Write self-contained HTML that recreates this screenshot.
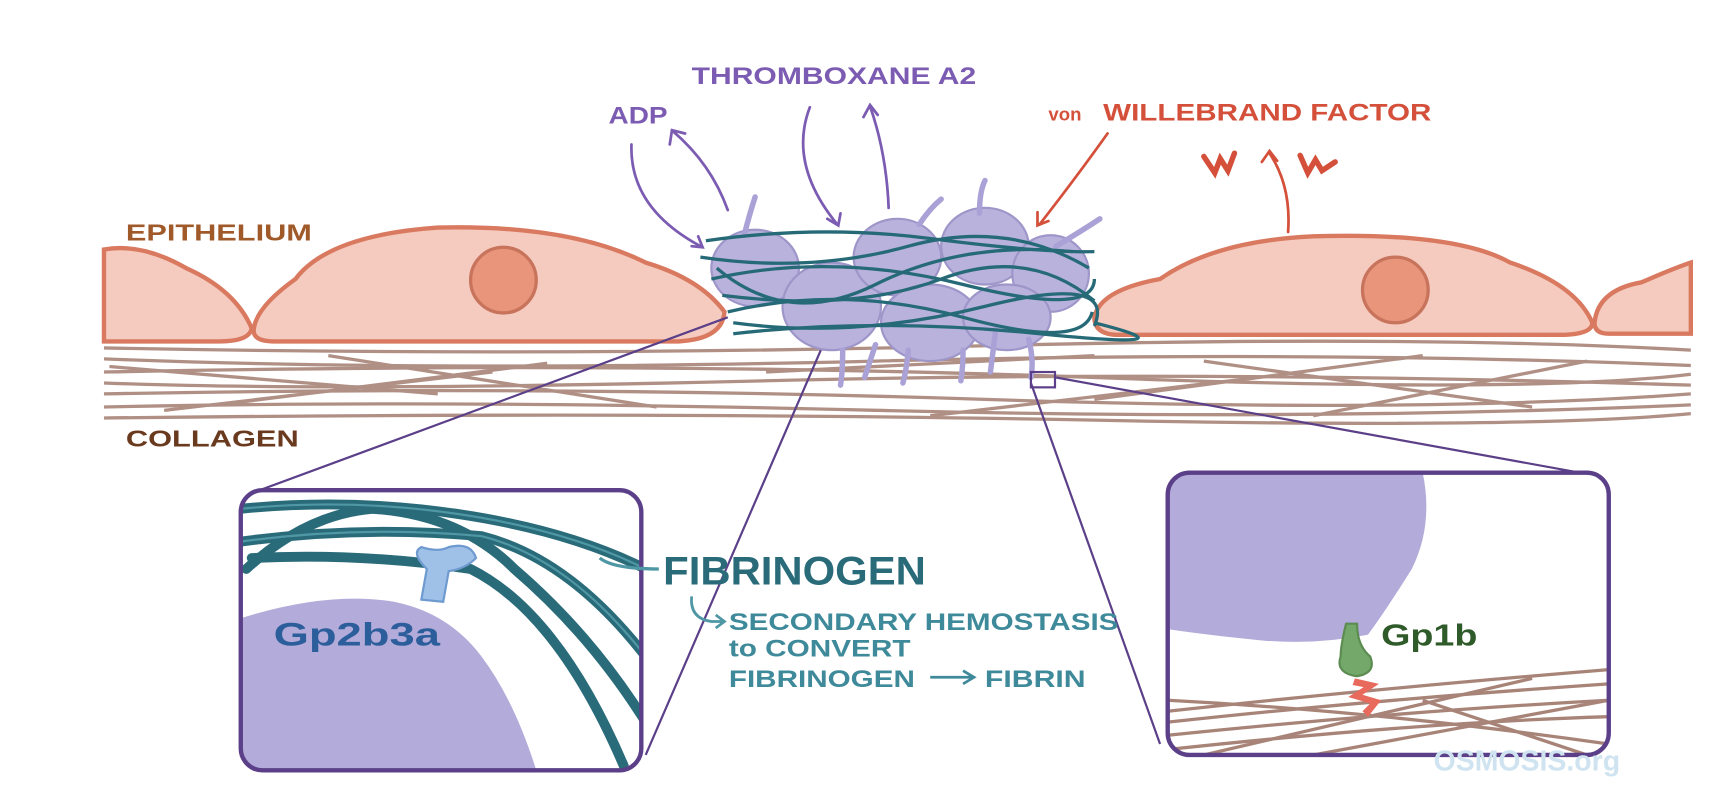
<!DOCTYPE html>
<html><head><style>
html,body{margin:0;padding:0;background:#fff;}
svg{display:block;}
text{font-family:"Liberation Sans",sans-serif;font-weight:bold;}
</style></head><body>
<svg width="1716" height="790" viewBox="0 0 1568 722" preserveAspectRatio="none" xmlns="http://www.w3.org/2000/svg">
<rect width="1568" height="722" fill="#fff"/>
<g stroke="#a88478" stroke-width="3" fill="none" opacity="0.9">
<path d="M95 318 Q500 326 900 316 T1545 320"/>
<path d="M95 328 Q400 340 800 330 T1545 334"/>
<path d="M95 340 Q600 330 1000 345 T1545 342"/>
<path d="M95 350 Q300 358 700 348 T1545 352"/>
<path d="M95 360 Q500 352 900 365 T1545 360"/>
<path d="M95 372 Q400 365 800 375 T1545 370"/>
<path d="M95 382 Q600 376 1000 384 T1545 378"/>
<path d="M100 335 L400 360 M300 325 L600 372 M500 332 L200 370 M700 340 L1000 325 M1100 330 L1400 372 M1300 325 L1000 365 M1450 330 L1200 380 M150 375 L450 340 M850 380 L1150 345"/>
</g>
<g fill="#f5cbbf" stroke="#d97a60" stroke-width="4">
<path d="M95 228 Q130 222 170 245 Q215 265 230 300 Q228 312 200 312 L95 312 Z"/>
<path d="M232 300 Q235 280 270 255 Q300 215 400 208 Q520 205 590 240 Q640 255 662 285 Q660 310 620 312 L250 312 Q230 312 232 300Z"/>
<path d="M1000 290 Q1005 265 1060 255 Q1110 220 1200 216 Q1330 212 1380 240 Q1440 260 1455 295 Q1455 305 1430 306 L1020 306 Q1000 305 1000 290Z"/>
<path d="M1457 295 Q1460 265 1500 258 Q1530 245 1545 240 L1545 305 L1470 305 Q1457 305 1457 295Z"/>
</g>
<circle cx="460" cy="256" r="30" fill="#e8957c" stroke="#c8735c" stroke-width="3"/>
<circle cx="1275" cy="265" r="30" fill="#e8957c" stroke="#c8735c" stroke-width="3"/>
<g fill="#b9b2dc" stroke="#9e95c8" stroke-width="2">
<ellipse cx="690" cy="245" rx="40" ry="35"/><ellipse cx="760" cy="280" rx="45" ry="40"/>
<ellipse cx="820" cy="235" rx="40" ry="35"/><ellipse cx="900" cy="225" rx="40" ry="35"/>
<ellipse cx="960" cy="250" rx="35" ry="35"/><ellipse cx="850" cy="295" rx="45" ry="35"/>
<ellipse cx="920" cy="290" rx="40" ry="30"/>
</g>
<g stroke="#aaa2d6" stroke-width="5" fill="none" stroke-linecap="round">
<path d="M680 215 Q685 195 690 180 M840 205 Q850 190 860 182 M895 195 Q895 175 900 165 M965 225 Q990 210 1005 200 M770 320 Q770 340 768 352 M830 320 Q828 340 825 350 M880 320 Q880 335 878 348 M940 310 Q945 330 942 345 M800 315 L790 345 M910 300 L905 340"/>
</g>
<g stroke="#266a78" stroke-width="3" fill="none">
<path d="M645 220 Q750 205 850 218 T1000 230"/>
<path d="M640 235 Q740 250 830 225 T995 245"/>
<path d="M650 255 Q760 230 880 260 T1000 255"/>
<path d="M660 270 Q780 285 860 255 T1000 275"/>
<path d="M665 285 Q770 260 880 290 T998 285"/>
<path d="M670 295 Q780 310 900 280 T1000 298"/>
<path d="M670 305 Q800 290 950 305 T1000 295"/>
<path d="M655 245 Q720 300 800 260 T980 230"/>
</g>
<text x="115" y="220" font-size="21" fill="#a05a2a" textLength="170" lengthAdjust="spacingAndGlyphs">EPITHELIUM</text>
<text x="115" y="408" font-size="21" fill="#6a3a1e" textLength="158" lengthAdjust="spacingAndGlyphs">COLLAGEN</text>
<text x="632" y="77" font-size="22" fill="#7b5cb2" textLength="260" lengthAdjust="spacingAndGlyphs">THROMBOXANE A2</text>
<text x="556" y="113" font-size="22" fill="#7b5cb2" textLength="54" lengthAdjust="spacingAndGlyphs">ADP</text>
<text x="958" y="110" font-size="17" fill="#d4503a">von</text>
<text x="1008" y="110" font-size="22" fill="#d4503a" textLength="300" lengthAdjust="spacingAndGlyphs">WILLEBRAND FACTOR</text>
<g stroke="#7b5cb2" stroke-width="2.5" fill="none" stroke-linecap="round">
<path d="M577 132 Q575 190 640 225"/><path d="M632 225 L642 226 L638 216"/>
<path d="M665 192 Q650 150 615 120"/><path d="M612 132 L614 119 L626 122"/>
<path d="M740 98 Q720 150 765 205"/><path d="M756 200 L766 206 L768 195"/>
<path d="M812 190 Q810 140 795 97"/><path d="M789 107 L795 96 L802 105"/>
</g>
<g stroke="#d4503a" stroke-width="2.5" fill="none" stroke-linecap="round">
<path d="M1012 122 Q985 160 950 205"/><path d="M948 194 L948 206 L958 202"/>
<path d="M1177 212 Q1180 170 1160 140"/><path d="M1153 148 L1160 138 L1167 147"/>
<path d="M1100 143 L1110 158 L1115 145 L1122 156 L1128 140" stroke-width="5"/>
<path d="M1188 142 L1195 158 L1202 146 L1208 156 L1220 148" stroke-width="5"/>
</g>
<g stroke="#5b3f88" stroke-width="2" fill="none">
<line x1="665" y1="290" x2="232" y2="450"/>
<line x1="750" y1="320" x2="590" y2="690"/>
<line x1="942" y1="350" x2="1060" y2="680"/>
<line x1="965" y1="345" x2="1460" y2="435"/>
<rect x="942" y="340" width="22" height="14"/>
</g>
<defs><clipPath id="cl"><rect x="220" y="448" width="366" height="256" rx="20"/></clipPath>
<clipPath id="cr"><rect x="1067" y="432" width="403" height="258" rx="20"/></clipPath></defs>
<g clip-path="url(#cl)">
<rect x="220" y="448" width="366" height="256" fill="#fff"/>
<path d="M220 565 Q300 540 360 550 Q410 560 440 600 Q470 640 490 704 L220 704Z" fill="#b3abd9"/>
<g stroke="#2a6b7a" stroke-width="9" fill="none" stroke-linecap="round">
<path d="M220 465 Q320 455 420 470 T590 520"/>
<path d="M220 495 Q330 480 440 490 Q520 510 590 600"/>
<path d="M225 520 Q280 470 340 465 Q420 470 470 520 Q540 580 590 660"/>
<path d="M230 510 Q330 505 430 520 Q510 560 570 700"/>
</g>
<g stroke="#4f97a5" stroke-width="2" fill="none">
<path d="M220 465 Q320 455 420 470 T590 520"/><path d="M220 495 Q330 480 440 490 Q520 510 590 600"/>
</g>
<path d="M385 548 L390 520 Q375 505 385 500 Q400 505 410 500 Q430 495 435 510 Q425 520 410 522 L405 550Z" fill="#9fc1e8" stroke="#6e9ad0" stroke-width="2"/>
<text x="250" y="590" font-size="30" fill="#2d5e9c" textLength="152" lengthAdjust="spacingAndGlyphs">Gp2b3a</text>
</g>
<rect x="220" y="448" width="366" height="256" rx="20" fill="none" stroke="#5b3f88" stroke-width="4"/>
<g clip-path="url(#cr)">
<rect x="1067" y="432" width="403" height="258" fill="#fff"/>
<path d="M1067 432 L1300 432 Q1310 480 1290 520 Q1265 560 1250 580 Q1200 590 1150 585 Q1100 580 1067 575Z" fill="#b3abd9"/>
<g stroke="#a88478" stroke-width="3" fill="none">
<path d="M1067 650 Q1250 630 1470 612"/><path d="M1067 660 Q1250 640 1470 625"/>
<path d="M1067 672 Q1280 650 1470 640"/><path d="M1067 685 Q1300 660 1470 655"/>
<path d="M1067 640 Q1260 650 1470 680"/><path d="M1100 690 L1400 620 M1200 690 L1470 640 M1300 640 L1450 690"/>
</g>
<path d="M1230 570 Q1225 590 1225 600 Q1220 615 1240 618 Q1258 615 1252 600 Q1240 590 1240 570Z" fill="#74a86a" stroke="#5c8c52" stroke-width="2"/>
<path d="M1238 620 L1260 625 L1245 635 L1262 640 L1250 655 L1245 650 L1252 643 L1232 637 L1246 628 L1236 626Z" fill="#e86a5c"/>
<text x="1262" y="590" font-size="28" fill="#2f5a2a" textLength="88" lengthAdjust="spacingAndGlyphs">Gp1b</text>
</g>
<rect x="1067" y="432" width="403" height="258" rx="20" fill="none" stroke="#5b3f88" stroke-width="4"/>
<path d="M548 510 Q560 520 602 520" stroke="#4f97a5" stroke-width="3" fill="none"/>
<text x="606" y="534" font-size="36" fill="#2a6b7a" textLength="240" lengthAdjust="spacingAndGlyphs">FIBRINOGEN</text>
<path d="M632 545 Q630 565 650 568 L660 568 M654 562 L662 568 L654 574" stroke="#4f97a5" stroke-width="2.5" fill="none"/>
<text x="666" y="576" font-size="22" fill="#3e8a9a" textLength="356" lengthAdjust="spacingAndGlyphs">SECONDARY HEMOSTASIS</text>
<text x="666" y="600" font-size="22" fill="#3e8a9a" font-weight="normal" textLength="166" lengthAdjust="spacingAndGlyphs">to CONVERT</text>
<text x="666" y="628" font-size="22" fill="#3e8a9a" textLength="170" lengthAdjust="spacingAndGlyphs">FIBRINOGEN</text>
<path d="M850 619 L888 619 M880 613 L890 619 L880 625" stroke="#3e8a9a" stroke-width="2.5" fill="none"/>
<text x="900" y="628" font-size="22" fill="#3e8a9a" textLength="92" lengthAdjust="spacingAndGlyphs">FIBRIN</text>
<text x="1310" y="704" font-size="26" fill="#cfe4f0">OSMOSIS.org</text>
</svg>
</body></html>
